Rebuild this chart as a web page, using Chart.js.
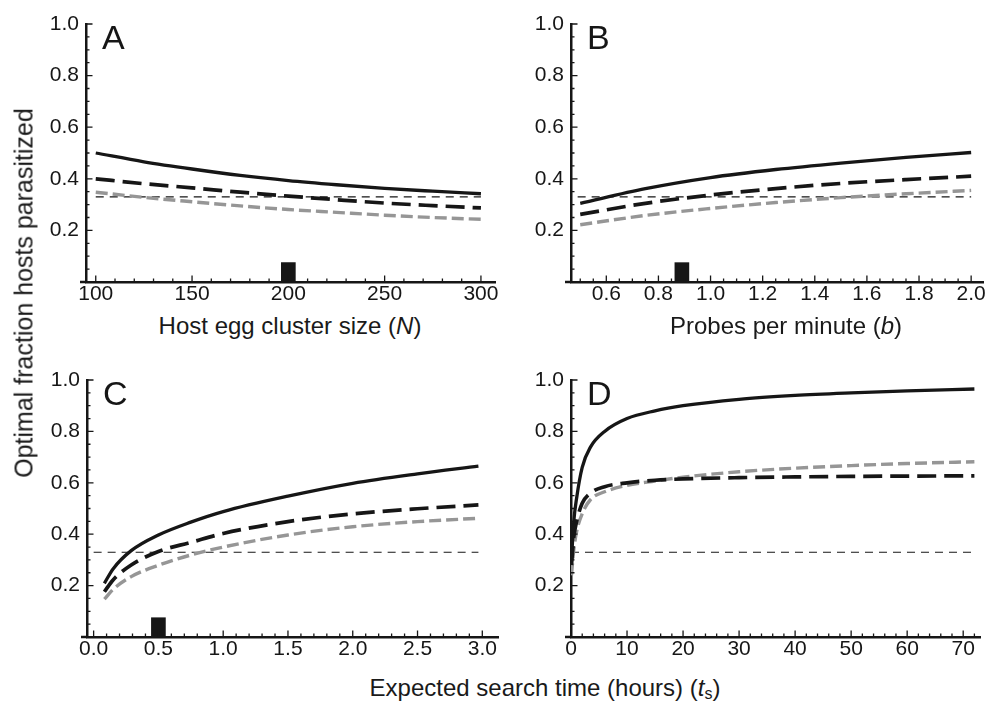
<!DOCTYPE html>
<html>
<head>
<meta charset="utf-8">
<script src="https://cdn.jsdelivr.net/npm/chart.js@4.4.1/dist/chart.umd.min.js"></script>
<style>
  body { margin: 0; background: #fff; width: 995px; height: 707px; position: relative; overflow: hidden;
         font-family: 'Liberation Sans', Arial, sans-serif; color: #1a1a1a; }
  canvas { position: absolute; }
  .ttl { position: absolute; font-size: 24px; white-space: nowrap; transform: translate(-50%, -50%); }
  .ttl sub { font-size: 16px; vertical-align: -3px; line-height: 0; }
</style>
</head>
<body>
<canvas id="panelA" width="520" height="310" style="left:0px;top:0px"></canvas>
<canvas id="panelB" width="495" height="310" style="left:500px;top:0px"></canvas>
<canvas id="panelC" width="520" height="330" style="left:0px;top:340px"></canvas>
<canvas id="panelD" width="495" height="330" style="left:500px;top:340px"></canvas>

<div class="ttl" style="left:290px;top:326px">Host egg cluster size (<i>N</i>)</div>
<div class="ttl" style="left:786px;top:326px">Probes per minute (<i>b</i>)</div>
<div class="ttl" style="left:545px;top:688px">Expected search time (hours) (<i>t</i><sub>s</sub>)</div>
<div class="ttl" style="left:24px;top:293px;font-size:25px;transform:translate(-50%,-50%) rotate(-90deg)">Optimal fraction hosts parasitized</div>

<script>
// A: host egg cluster size
const sizeN  = [100, 125, 150, 175, 200, 225, 250, 275, 300];
const aSolid = [0.500, 0.466, 0.438, 0.413, 0.393, 0.377, 0.363, 0.352, 0.342];
const aLong  = [0.400, 0.381, 0.365, 0.348, 0.333, 0.319, 0.306, 0.296, 0.287];
const aGray  = [0.348, 0.328, 0.311, 0.295, 0.281, 0.270, 0.259, 0.250, 0.243];

// B: probes per minute
const probeB = [0.5, 0.75, 1.0, 1.25, 1.5, 1.75, 2.0];
const bSolid = [0.305, 0.362, 0.405, 0.436, 0.461, 0.483, 0.502];
const bLong  = [0.262, 0.305, 0.337, 0.362, 0.382, 0.397, 0.410];
const bGray  = [0.222, 0.258, 0.285, 0.308, 0.327, 0.342, 0.355];

// C: expected search time, short range (hours)
const searchC = [0.083, 0.15, 0.29, 0.5, 0.75, 1.0, 1.5, 2.0, 2.5, 2.97];
const cSolid  = [0.209, 0.265, 0.336, 0.397, 0.447, 0.488, 0.548, 0.598, 0.635, 0.665];
const cLong   = [0.176, 0.222, 0.280, 0.333, 0.368, 0.403, 0.449, 0.479, 0.499, 0.514];
const cGray   = [0.147, 0.185, 0.235, 0.279, 0.319, 0.350, 0.397, 0.429, 0.449, 0.462];

// D: expected search time, long range (hours)
const searchD = [0.083, 0.5, 1, 2, 3.5, 6, 10, 15, 20, 30, 40, 50, 60, 72];
const dSolid  = [0.30, 0.45, 0.54, 0.66, 0.74, 0.80, 0.85, 0.88, 0.90, 0.925, 0.94, 0.95, 0.958, 0.965];
const dLong   = [0.28, 0.39, 0.45, 0.52, 0.56, 0.585, 0.60, 0.61, 0.615, 0.62, 0.623, 0.625, 0.626, 0.627];
const dGray   = [0.24, 0.34, 0.41, 0.48, 0.535, 0.565, 0.59, 0.607, 0.622, 0.643, 0.657, 0.667, 0.675, 0.682];

const nullLevel = 0.33;          // thin dashed reference line
const markerX = [200, 0.89, 0.5]; // black blocks on the x axis of A, B, C
const markerHeight = 0.075;

// tick labels
const yMajors = [0.2, 0.4, 0.6, 0.8, 1.0];
const aMajors = [100, 150, 200, 250, 300];
const bMajors = [0.6, 0.8, 1.0, 1.2, 1.4, 1.6, 1.8, 2.0];
const cMajors = [0.0, 0.5, 1.0, 1.5, 2.0, 2.5, 3.0];
const dMajors = [0, 10, 20, 30, 40, 50, 60, 70];

const black = '#161616';
const gray = '#969696';
const tickFont = { family: 'Liberation Sans', size: 21 };

function pts(xs, ys) {
    return xs.map((x, i) => ({ x: x, y: ys[i] }));
}

function isIn(v, list) {
    return list.some(m => Math.abs(m - v) < 1e-6);
}

// inward ticks, little axis overhang and the panel letter
const panelMarks = {
    id: 'panelMarks',
    afterDraw(chart, args, opts) {
        const { ctx, chartArea: a, scales: { x, y } } = chart;
        ctx.save();
        ctx.strokeStyle = black;
        ctx.lineWidth = 1.3;
        ctx.beginPath();
        y.ticks.forEach(t => {
            if (t.value <= 0) return;
            const py = y.getPixelForValue(t.value);
            const len = isIn(t.value, yMajors) ? 6.5 : 3.5;
            ctx.moveTo(a.left, py);
            ctx.lineTo(a.left + len, py);
        });
        x.ticks.forEach(t => {
            const px = x.getPixelForValue(t.value);
            if (px <= a.left + 1) return;
            const len = isIn(t.value, opts.majors) ? 6.5 : 3.5;
            ctx.moveTo(px, a.bottom);
            ctx.lineTo(px, a.bottom - len);
        });
        ctx.stroke();

        ctx.lineWidth = 2.5;
        ctx.beginPath();
        ctx.moveTo(a.left - 6, a.bottom);
        ctx.lineTo(a.left, a.bottom);
        ctx.stroke();

        ctx.fillStyle = black;
        ctx.font = '34px "Liberation Sans"';
        ctx.textBaseline = 'alphabetic';
        ctx.fillText(opts.letter, a.left + 16, a.top + 25);
        ctx.restore();
    }
};

function panel(id, box, area, xs, lines, o) {
    const datasets = [
        { data: pts(xs, lines[0]), borderColor: black, borderWidth: 3.3 },
        { data: pts(xs, lines[1]), borderColor: black, borderWidth: 3.7, borderDash: [19, 8] },
        { data: pts(xs, lines[2]), borderColor: gray, borderWidth: 3.4, borderDash: [12, 5] },
        { data: [{ x: o.min, y: nullLevel }, { x: xs[xs.length - 1], y: nullLevel }],
          borderColor: black, borderWidth: 1.1, borderDash: [8, 6] }
    ];
    datasets.forEach(d => {
        d.pointRadius = 0;
        d.fill = false;
        d.cubicInterpolationMode = 'monotone';
        d.borderCapStyle = 'butt';
    });
    if (o.marker !== undefined) {
        datasets.push({
            type: 'bar',
            data: [{ x: o.marker, y: markerHeight }],
            backgroundColor: black,
            barThickness: 14
        });
    }

    new Chart(document.getElementById(id), {
        type: 'line',
        data: { datasets: datasets },
        options: {
            responsive: false,
            animation: false,
            events: [],
            layout: {
                padding: { left: 0, bottom: 0, top: area.top - box.top, right: box.left + box.w - area.right }
            },
            plugins: {
                legend: { display: false },
                tooltip: { enabled: false },
                panelMarks: { letter: o.letter, majors: o.majors }
            },
            scales: {
                x: {
                    type: 'linear',
                    min: o.min,
                    max: o.max,
                    grid: { display: false, drawTicks: false },
                    border: { display: true, width: 2.5, color: black },
                    ticks: {
                        stepSize: o.minor,
                        autoSkip: false,
                        includeBounds: false,
                        maxRotation: 0,
                        minRotation: 0,
                        padding: 0,
                        color: black,
                        font: tickFont,
                        callback: v => isIn(v, o.majors) ? v.toFixed(o.dec) : ''
                    },
                    afterFit: s => { s.height = box.top + box.h - area.bottom; }
                },
                y: {
                    type: 'linear',
                    min: 0,
                    max: 1,
                    grid: { display: false, drawTicks: false },
                    border: { display: true, width: 2.5, color: black },
                    ticks: {
                        stepSize: 0.05,
                        autoSkip: false,
                        includeBounds: false,
                        padding: 7,
                        color: black,
                        font: tickFont,
                        callback: v => isIn(v, yMajors) ? v.toFixed(1) : ''
                    },
                    afterFit: s => { s.width = area.left - box.left; }
                }
            }
        },
        plugins: [panelMarks]
    });
}

panel('panelA', { left: 0, top: 0, w: 520, h: 310 }, { left: 86, top: 24, right: 495.5, bottom: 282 },
      sizeN, [aSolid, aLong, aGray],
      { letter: 'A', min: 100, max: 302.5, minor: 10, majors: aMajors, dec: 0, marker: markerX[0] });

panel('panelB', { left: 500, top: 0, w: 495, h: 310 }, { left: 571, top: 24, right: 983, bottom: 282 },
      probeB, [bSolid, bLong, bGray],
      { letter: 'B', min: 0.49, max: 2.02, minor: 0.05, majors: bMajors, dec: 1, marker: markerX[1] });

panel('panelC', { left: 0, top: 340, w: 520, h: 330 }, { left: 87, top: 380, right: 498, bottom: 637 },
      searchC, [cSolid, cLong, cGray],
      { letter: 'C', min: 0, max: 3.07, minor: 0.1, majors: cMajors, dec: 1, marker: markerX[2] });

panel('panelD', { left: 500, top: 340, w: 495, h: 330 }, { left: 571, top: 380, right: 980, bottom: 637 },
      searchD, [dSolid, dLong, dGray],
      { letter: 'D', min: 0, max: 73, minor: 2, majors: dMajors, dec: 0 });
</script>
</body>
</html>
